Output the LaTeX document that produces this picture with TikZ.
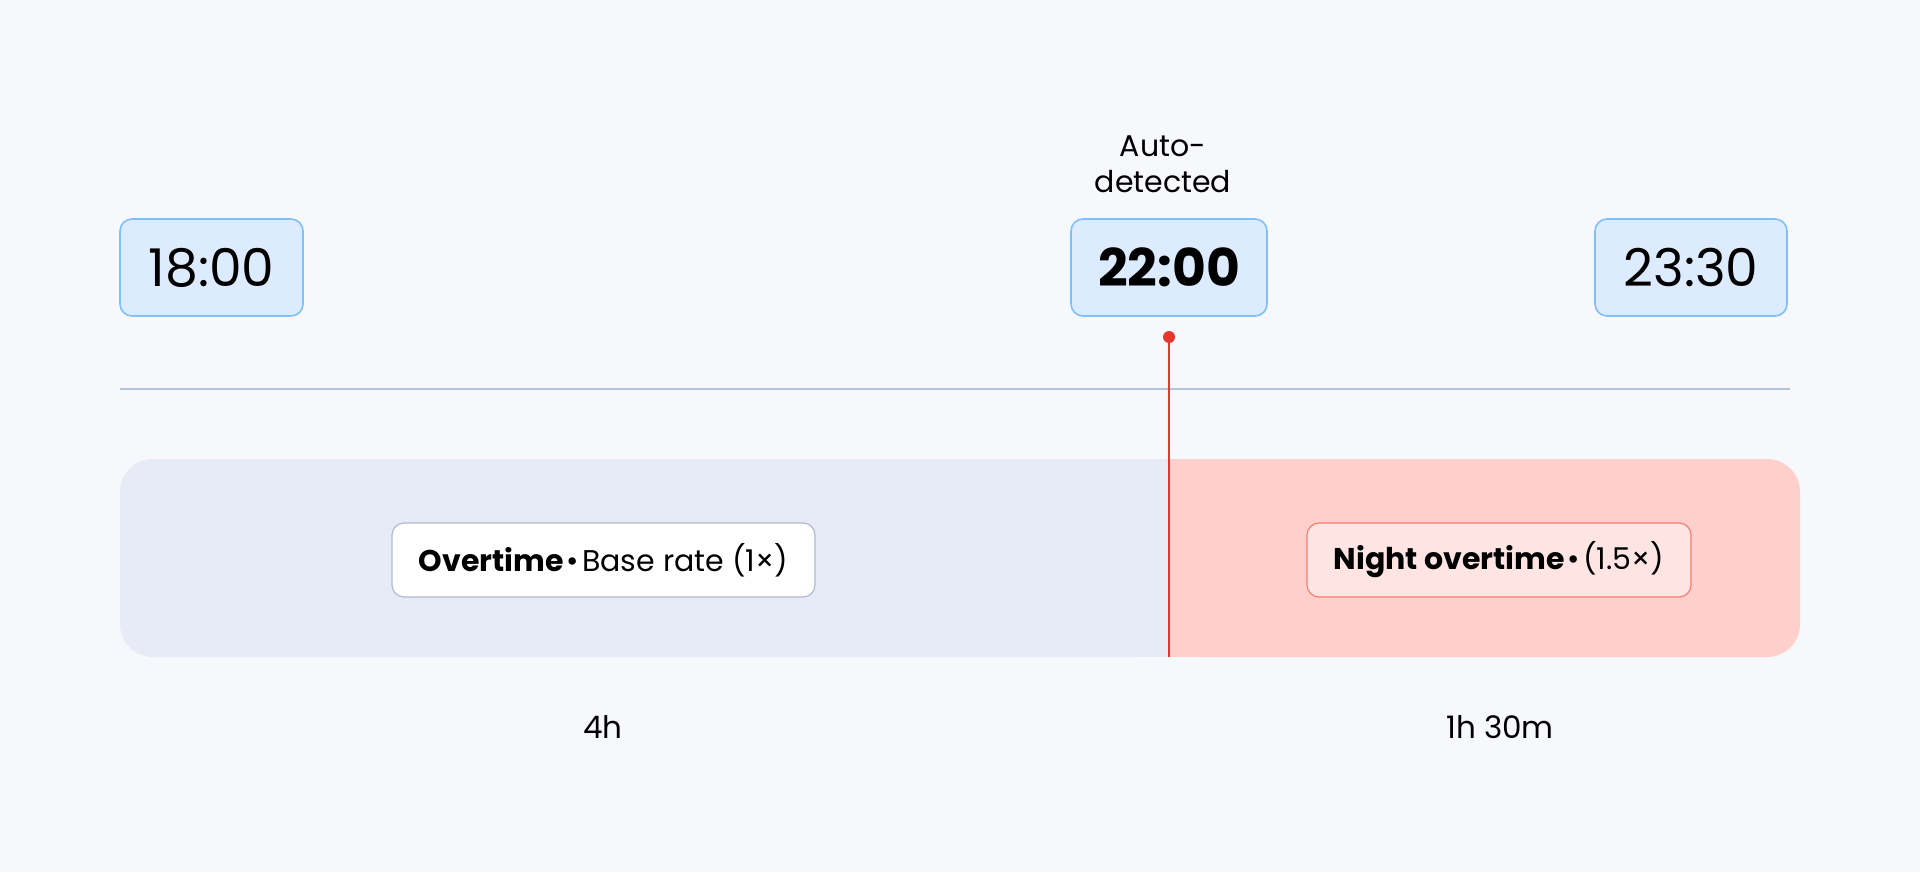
\documentclass[tikz,border=0pt]{standalone}
\usepackage{fontspec}
\setmainfont{Poppins}
\definecolor{bgc}{HTML}{F6F8FC}
\definecolor{timefill}{HTML}{DDEBFE}
\definecolor{timeborder}{HTML}{80C0FA}
\definecolor{axisc}{HTML}{B6C2D6}
\definecolor{bandL}{HTML}{E6EBF5}
\definecolor{bandR}{HTML}{FFCFCB}
\definecolor{redc}{HTML}{E5372B}
\definecolor{pillborder}{HTML}{AEBBD3}
\definecolor{nightfill}{HTML}{FFE4E4}
\definecolor{nightborder}{HTML}{F58070}
\tikzset{
  timebox/.style={draw=timeborder, line width=0.8pt, fill=timefill, rounded corners=6pt,
    minimum height=48.5pt, inner sep=0pt, font=\fontsize{26}{30}\selectfont},
  pillbox/.style={draw=pillborder, line width=0.6pt, fill=white, rounded corners=6pt,
    minimum height=37pt, inner sep=0pt, font=\fontsize{15}{18}\selectfont},
  nightbox/.style={pillbox, draw=nightborder, fill=nightfill},
  durlabel/.style={font=\fontsize{15.5}{18}\selectfont, inner sep=0pt},
}
\begin{document}
\begin{tikzpicture}[x=0.5pt, y=-0.5pt]
\fill[bgc] (0,0) rectangle (1920,872);
\useasboundingbox (0,0) rectangle (1920,872);
% axis line
\coordinate (axL) at (120,389);
\coordinate (axR) at (1790,389);
\draw[axisc, line width=1pt] (axL) -- (axR);
% bands
\fill[bandL, rounded corners=16.5pt] (120,459) rectangle (1169,657);
\fill[bandL] (700,459) rectangle (1169,657);
\fill[bandR, rounded corners=16.5pt] (1169,459) rectangle (1800,657);
\fill[bandR] (1169,459) rectangle (1500,657);
% time boxes
\node[timebox, minimum width=91.5pt] (t1) at (211.5,267.5) {18:00};
\node[timebox, minimum width=98pt] (t2) at (1169,267.5) {\bfseries 22:00};
\node[timebox, minimum width=96pt] (t3) at (1691,267.5) {23:30};
\node[align=center, font=\fontsize{15}{18}\selectfont, inner sep=0pt, anchor=south] (auto) at (1163,193) {Auto-\\detected};
% marker
\coordinate (lineEnd) at (1169,657);
\node[circle, fill=redc, minimum size=6pt, inner sep=0pt] (dot) at (1169,337) {};
\draw[redc, line width=1pt] (dot.center) -- (lineEnd);
% pills
\node[pillbox, minimum width=211.5pt] (p1) at (603.5,560) {\textbf{Overtime}\kern1.5pt•\kern1.5pt Base rate (1×)};
\node[nightbox, minimum width=192pt] (p2) at (1499,560) {\textbf{Night overtime}\kern1.5pt•\kern1.5pt(1.5×)};
% durations
\node[durlabel] (d1) at (603,727) {4h};
\node[durlabel] (d2) at (1500,727) {1h 30m};
\end{tikzpicture}
\end{document}
